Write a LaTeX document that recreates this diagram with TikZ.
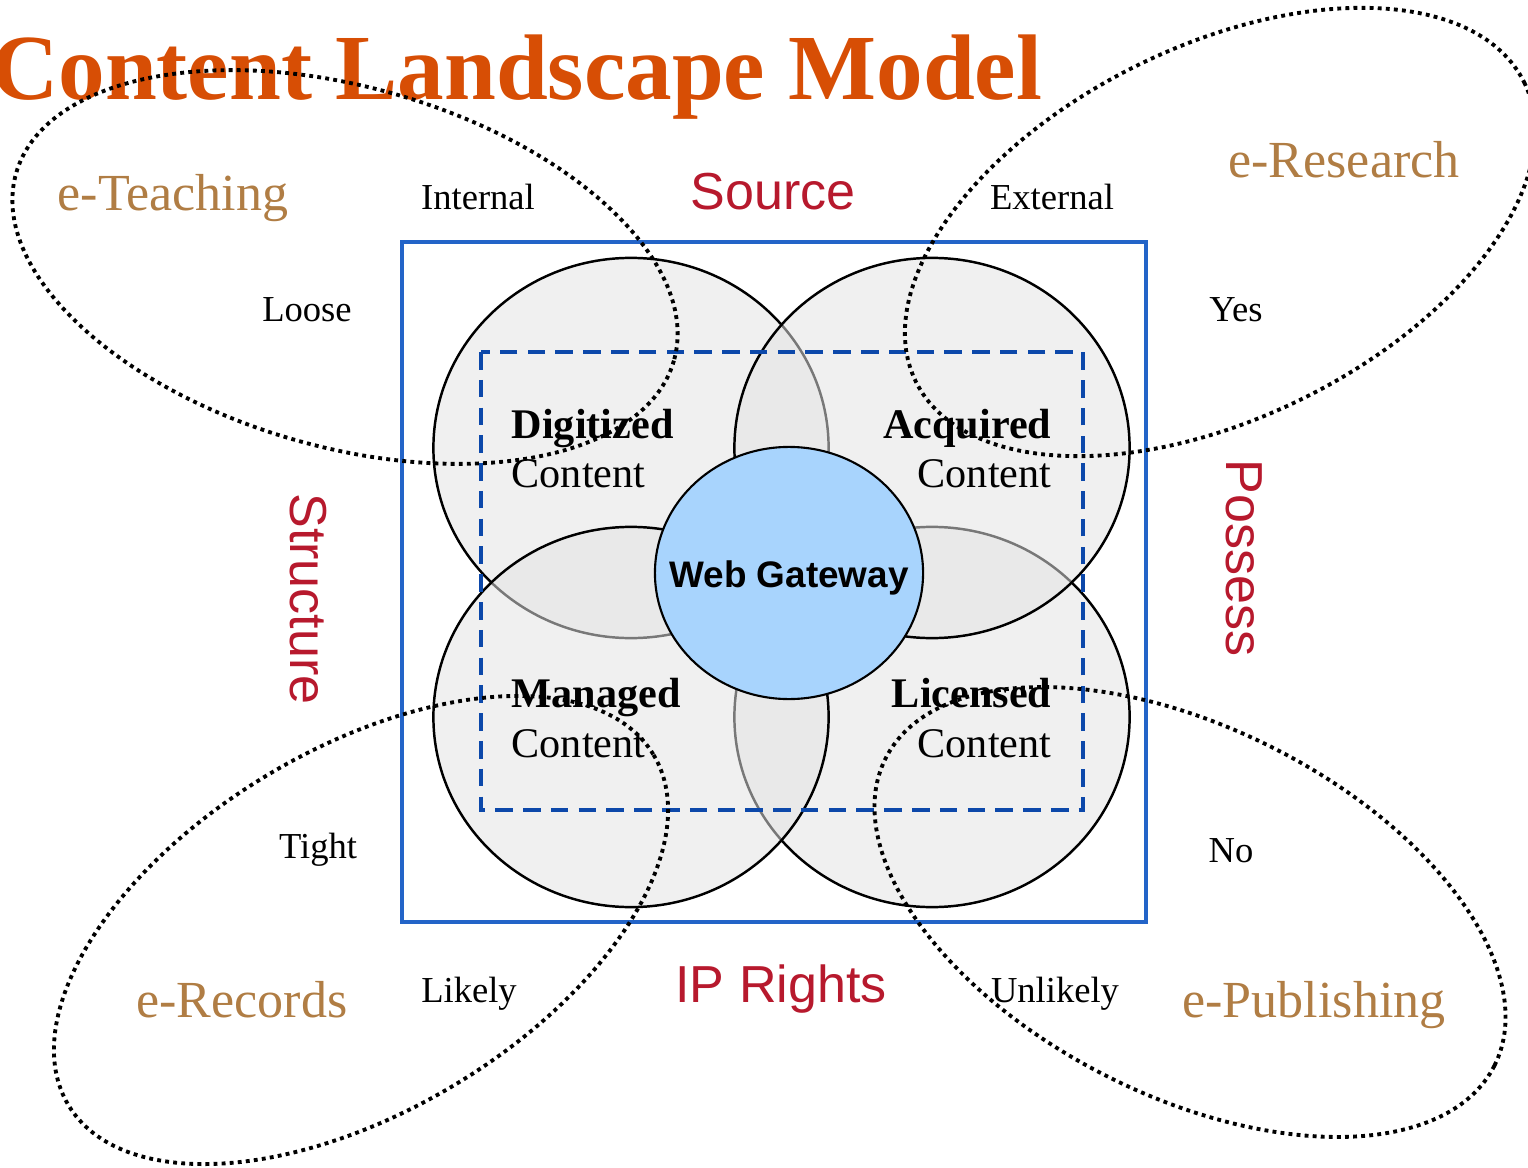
\documentclass[tikz,border=0pt]{standalone}
\usepackage{fontspec}
\setmainfont{Liberation Serif}
\newfontfamily\arialfont{Liberation Sans}
\usepackage{tikz}
\usetikzlibrary{shapes.geometric}

\definecolor{titleorange}{RGB}{215,78,5}
\definecolor{gold}{RGB}{176,125,68}
\definecolor{crimson}{RGB}{183,25,45}
\definecolor{gateblue}{RGB}{168,212,253}
\definecolor{framblue}{RGB}{35,100,200}
\definecolor{dashblue}{RGB}{12,72,170}

\begin{document}
\begin{tikzpicture}[x=0.01cm, y=-0.01cm,
			area/.style={ellipse, draw, line width=0.7pt, fill=black!11, fill opacity=0.53,
				draw opacity=1, minimum width=3.95cm, minimum height=3.80cm, inner sep=0pt},
			gate/.style={ellipse, draw, line width=0.6pt, fill=gateblue,
				minimum width=2.68cm, minimum height=2.52cm, inner sep=0pt,
				font=\arialfont\bfseries\fontsize{10.5}{12}\selectfont},
			ringline/.style={line width=1.1pt, dash pattern=on 1.1pt off 1.2pt},
			headline/.style={inner sep=0pt, text=titleorange, font=\bfseries\fontsize{26.5}{30}\selectfont},
			domlab/.style={inner sep=0pt, text=gold, font=\fontsize{14.8}{17}\selectfont},
			axlab/.style={inner sep=0pt, text=crimson, font=\arialfont\fontsize{14.8}{17}\selectfont},
			pole/.style={inner sep=0pt, font=\fontsize{10.4}{12}\selectfont},
			capt/.style={inner sep=0pt, font=\fontsize{12}{14}\selectfont}]
	\useasboundingbox (0,0) rectangle (1528,1167);

	% outer frame
	\draw[framblue, line width=0.9pt] (402,242) rectangle (1146,922);

	% content circles
	\node[area] (dig) at (631,448) {};
	\node[area] (lic) at (932,717) {};
	\node[area] (acq) at (932,448) {};
	\node[area] (man) at (631,717) {};
	\node[gate] (gate) at (789,573) {\makebox[0pt]{\raisebox{-4.2pt}[0pt][0pt]{Web Gateway}}};

	\draw[dashblue, line width=1.05pt, dash pattern=on 5pt off 2.9pt] (481,352) rectangle (1083,810);

	\node[capt, anchor=base west] (dig1) at (511,438) {\textbf{Digitized}};
	\node[capt, anchor=base west] (dig2) at (511,487) {Content};
	\node[capt, anchor=base east] (acq1) at (1052,438) {\textbf{Acquired}};
	\node[capt, anchor=base east] (acq2) at (1052,487) {Content};
	\node[capt, anchor=base west] (man1) at (511,707) {\textbf{Managed}};
	\node[capt, anchor=base west] (man2) at (511,757) {Content};
	\node[capt, anchor=base east] (lic1) at (1052,707) {\textbf{Licensed}};
	\node[capt, anchor=base east] (lic2) at (1052,757) {Content};

	% axes
	\node[axlab, anchor=base] (source) at (773,210) {Source};
	\node[axlab, anchor=base] (rights) at (781,1002) {IP Rights};
	\node[axlab, rotate=-90] (struct) at (308,599) {Structure};
	\node[axlab, rotate=-90] (possess) at (1244,558) {Possess};

	\node[pole, anchor=base] (internal) at (478,210) {Internal};
	\node[pole, anchor=base] (external) at (1052,210) {External};
	\node[pole, anchor=base] (loose) at (307,322) {Loose};
	\node[pole, anchor=base] (yes) at (1236,322) {Yes};
	\node[pole, anchor=base] (tight) at (318,858) {Tight};
	\node[pole, anchor=base] (no) at (1231,862) {No};
	\node[pole, anchor=base] (likely) at (469,1002) {Likely};
	\node[pole, anchor=base] (unlikely) at (1055,1002) {Unlikely};

	\node[headline, anchor=base east] (head) at (1043,100) {Content Landscape Model};

	% domains
	\node[domlab, anchor=base] (teach) at (173,211) {e-Teaching};
	\node[domlab, anchor=base] (research) at (1344,178) {e-Research};
	\node[domlab, anchor=base] (records) at (242,1017) {e-Records};
	\node[domlab, anchor=base] (publish) at (1314,1017) {e-Publishing};

	\draw[ringline, rotate around={-15.9:(345,267)}] (345,267) ellipse [x radius=342, y radius=180];
	\draw[ringline, rotate around={26.2:(1220,232)}] (1220,232) ellipse [x radius=339, y radius=186];
	\draw[ringline, rotate around={30.9:(361,930)}] (361,930) ellipse [x radius=341, y radius=181];
	\draw[ringline, rotate around={-26.8:(1190,912)}] (1190,912) ellipse [x radius=341, y radius=184];
\end{tikzpicture}
\end{document}
